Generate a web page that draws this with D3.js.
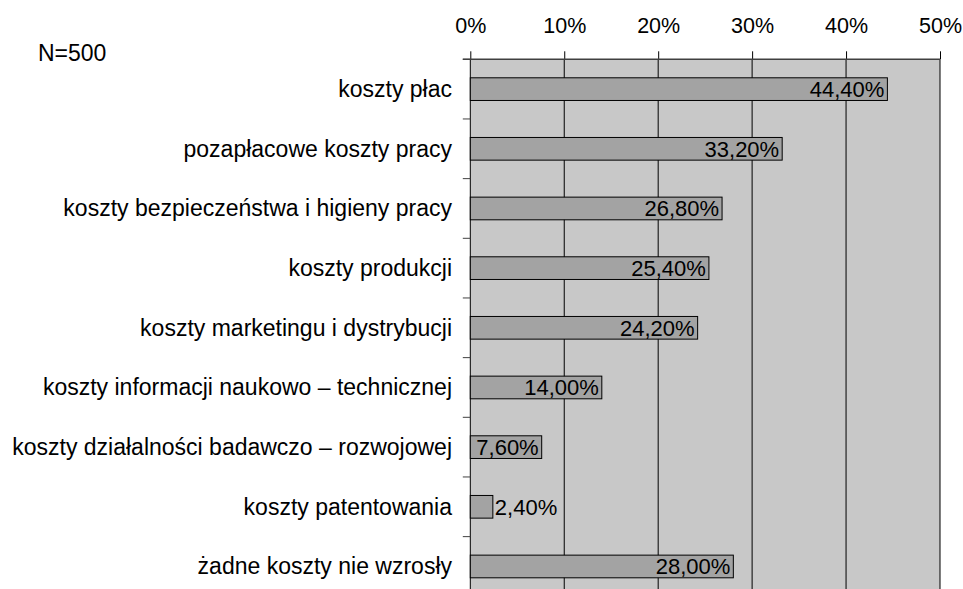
<!DOCTYPE html>
<html><head><meta charset="utf-8">
<script src="https://cdn.jsdelivr.net/npm/d3@7"></script>
<style>
html,body{margin:0;padding:0;background:#fff;}
svg{display:block;font-family:"Liberation Sans",Arial,sans-serif;}
</style></head>
<body>
<svg id="chart" width="963" height="589"></svg>
<script>
const categories = [
  "koszty płac",
  "pozapłacowe koszty pracy",
  "koszty bezpieczeństwa i higieny pracy",
  "koszty produkcji",
  "koszty marketingu i dystrybucji",
  "koszty informacji naukowo – technicznej",
  "koszty działalności badawczo – rozwojowej",
  "koszty patentowania",
  "żadne koszty nie wzrosły"
];
const values = [44.4, 33.2, 26.8, 25.4, 24.2, 14.0, 7.6, 2.4, 28.0];
const ticks = [0, 10, 20, 30, 40, 50];
const note = "N=500";

const svg = d3.select("#chart");
const pL = 470.3, pR = 940, pT = 59.3, pB = 596.3;

const x = d3.scaleLinear().domain([0, 50]).range([pL, pR]);
const y = d3.scaleBand().domain(categories).range([pT, pB])
  .paddingInner(0.62).paddingOuter(0.31);

// plot background
svg.append("rect").attr("x", pL).attr("y", pT)
  .attr("width", pR - pL).attr("height", pB - pT)
  .attr("fill", "#c8c8c8");

// gridlines
svg.append("g").selectAll("line").data(ticks).join("line")
  .attr("x1", d => x(d)).attr("x2", d => x(d))
  .attr("y1", pT).attr("y2", pB)
  .attr("stroke", "#000").attr("stroke-width", 1);

// left axis ticks at band boundaries
const step = y.step();
svg.append("g").selectAll("line").data(d3.range(categories.length + 1)).join("line")
  .attr("x1", pL - 7.5).attr("x2", pL)
  .attr("y1", i => pT + i * step).attr("y2", i => pT + i * step)
  .attr("stroke", "#404040").attr("stroke-width", 1);

// top axis
const axis = svg.append("g").attr("transform", `translate(0,${pT})`)
  .call(d3.axisTop(x).tickValues(ticks).tickSize(8).tickPadding(18)
    .tickFormat(d => d + "%"));
axis.select(".domain").remove();
axis.selectAll(".tick line").attr("stroke", "#000");
axis.selectAll(".tick text").attr("font-size", 21.5).attr("fill", "#000")
  .attr("font-family", "Liberation Sans, Arial, sans-serif");
svg.append("line").attr("x1", pL - 7.5).attr("x2", pR)
  .attr("y1", pT).attr("y2", pT).attr("stroke", "#404040").attr("stroke-width", 1.5);

// bars
svg.append("g").selectAll("rect").data(values).join("rect")
  .attr("x", x(0))
  .attr("y", (d, i) => y(categories[i]))
  .attr("width", d => x(d) - x(0))
  .attr("height", y.bandwidth())
  .attr("fill", "#a3a3a3").attr("stroke", "#000").attr("stroke-width", 1);

// value labels
const fmt = d => d.toFixed(2).replace(".", ",") + "%";
svg.append("g").selectAll("text").data(values).join("text")
  .attr("font-size", 22).attr("fill", "#000")
  .attr("y", (d, i) => y(categories[i]) + y.bandwidth() / 2 + 7.8)
  .text(fmt)
  .each(function(d) {
    const w = this.getComputedTextLength();
    const barW = x(d) - x(0);
    if (w + 6 > barW) {
      d3.select(this).attr("x", x(d) + 2).attr("text-anchor", "start");
    } else {
      d3.select(this).attr("x", x(d) - 3).attr("text-anchor", "end");
    }
  });

// category labels
svg.append("g").selectAll("text").data(categories).join("text")
  .attr("x", 452).attr("text-anchor", "end")
  .attr("y", d => y(d) + y.bandwidth() / 2 + 8)
  .attr("font-size", 23).attr("fill", "#000")
  .text(d => d);

// note
svg.append("text").attr("x", 38).attr("y", 60.5)
  .attr("font-size", 23).attr("fill", "#000").text(note);
</script>
</body></html>
